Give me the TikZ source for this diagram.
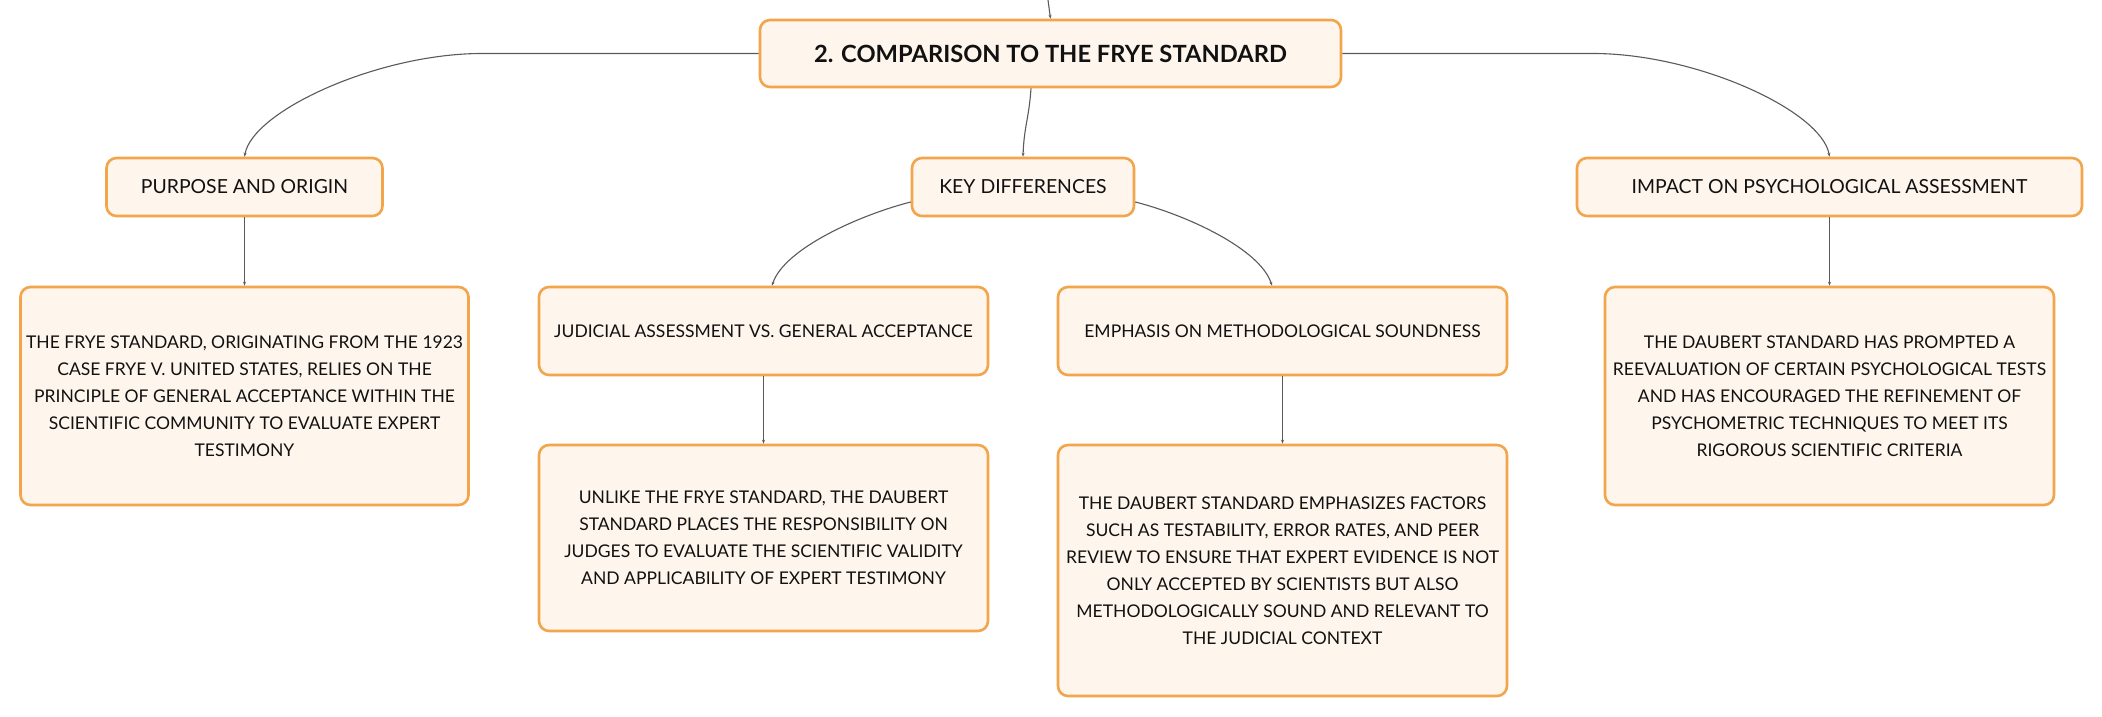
\documentclass[tikz,border=0pt]{standalone}
\usepackage{fontspec}
\setmainfont{Lato}
\usetikzlibrary{arrows.meta,calc}
\definecolor{boxline}{HTML}{F3A54C}
\definecolor{boxfill}{HTML}{FEF5EC}
\definecolor{conncol}{HTML}{5A5A5A}
\definecolor{txtcol}{HTML}{111111}
\tikzset{
  mbox/.style={draw=boxline, fill=boxfill, line width=2.6pt, rounded corners=10pt,
    inner sep=0pt, align=center, text=txtcol, font=\fontsize{17.5}{27}\selectfont},
  lvlbox/.style={mbox, font=\fontsize{19.4}{27}\selectfont},
  titlebox/.style={mbox, font=\fontsize{23.7}{28}\selectfont\bfseries},
  conn/.style={draw=conncol, line width=1.1pt, -{Stealth[length=4pt,width=3pt]}}
}
\begin{document}
\begin{tikzpicture}[x=1pt,y=-1pt]
\useasboundingbox (0,0) rectangle (2102,717);
\fill[white] (0,0) rectangle (2102,717);

\node[titlebox, minimum width=581pt, minimum height=67pt] (title) at (1050.5,53.5) {2. COMPARISON TO THE FRYE STANDARD};

\node[lvlbox, minimum width=276pt, minimum height=58pt] (purpose) at (244.5,187) {PURPOSE AND ORIGIN};
\node[lvlbox, minimum width=222pt, minimum height=58pt] (key) at (1023,187) {KEY DIFFERENCES};
\node[lvlbox, minimum width=505pt, minimum height=58pt] (impact) at (1829.5,187) {IMPACT ON PSYCHOLOGICAL ASSESSMENT};

\node[mbox, minimum width=448pt, minimum height=218pt] (frye) at (244.5,396) {THE FRYE STANDARD, ORIGINATING FROM THE 1923\\CASE FRYE V. UNITED STATES, RELIES ON THE\\PRINCIPLE OF GENERAL ACCEPTANCE WITHIN THE\\SCIENTIFIC COMMUNITY TO EVALUATE EXPERT\\TESTIMONY};

\node[mbox, minimum width=449pt, minimum height=88pt] (judicial) at (763.5,331) {JUDICIAL ASSESSMENT VS. GENERAL ACCEPTANCE};
\node[mbox, minimum width=449pt, minimum height=88pt] (emphasis) at (1282.5,331) {EMPHASIS ON METHODOLOGICAL SOUNDNESS};

\node[mbox, minimum width=449pt, minimum height=186pt] (unlike) at (763.5,538) {UNLIKE THE FRYE STANDARD, THE DAUBERT\\STANDARD PLACES THE RESPONSIBILITY ON\\JUDGES TO EVALUATE THE SCIENTIFIC VALIDITY\\AND APPLICABILITY OF EXPERT TESTIMONY};
\node[mbox, minimum width=449pt, minimum height=251pt] (factors) at (1282.5,570.5) {THE DAUBERT STANDARD EMPHASIZES FACTORS\\SUCH AS TESTABILITY, ERROR RATES, AND PEER\\REVIEW TO ENSURE THAT EXPERT EVIDENCE IS NOT\\ONLY ACCEPTED BY SCIENTISTS BUT ALSO\\METHODOLOGICALLY SOUND AND RELEVANT TO\\THE JUDICIAL CONTEXT};
\node[mbox, minimum width=449pt, minimum height=218pt] (prompted) at (1829.5,396) {THE DAUBERT STANDARD HAS PROMPTED A\\REEVALUATION OF CERTAIN PSYCHOLOGICAL TESTS\\AND HAS ENCOURAGED THE REFINEMENT OF\\PSYCHOMETRIC TECHNIQUES TO MEET ITS\\RIGOROUS SCIENTIFIC CRITERIA};

% connectors
\coordinate (topend) at (1048,0);
\draw[conn] (topend) -- (title.north);

\draw[conn] (title.west) -- ++(-277,0) .. controls +(-103,0) and +(8,-46) .. (purpose.north);
\draw[conn] (title.east) -- ++(251,0) .. controls +(103,0) and +(-8,-46) .. (impact.north);
\draw[conn] ($(title.south)+(-19.5,0)$) .. controls +(-2,30) and +(1,-30) .. (key.north);

\draw[conn] ($(key.west)+(0,15)$) .. controls +(-51,13) and +(12,-37) .. ($(judicial.north)+(8.5,0)$);
\draw[conn] ($(key.east)+(0,15)$) .. controls +(51,13) and +(-12,-37) .. ($(emphasis.north)+(-10.5,0)$);

\draw[conn] (purpose.south) -- (frye.north);
\draw[conn] (judicial.south) -- (unlike.north);
\draw[conn] (emphasis.south) -- (factors.north);
\draw[conn] (impact.south) -- (prompted.north);
\end{tikzpicture}
\end{document}
